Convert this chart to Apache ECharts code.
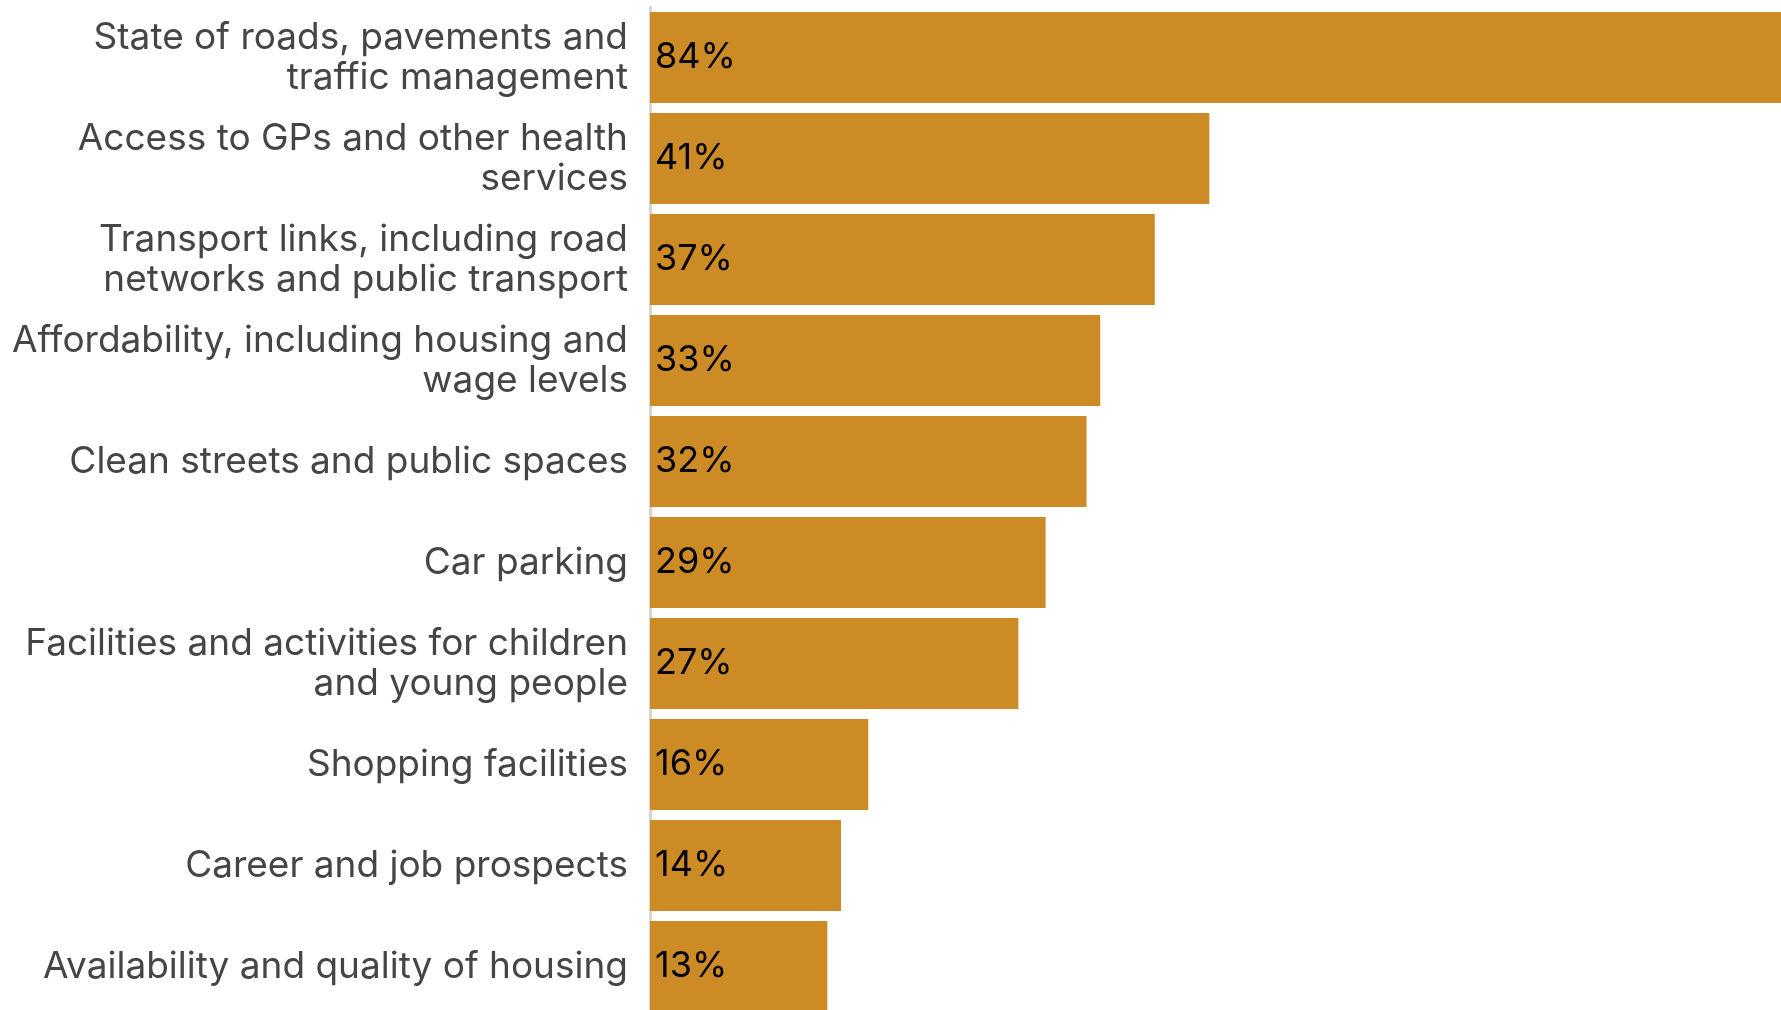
<!DOCTYPE html>
<html>
<head>
<meta charset="utf-8">
<style>
  html, body { margin: 0; padding: 0; background: #ffffff; }
  #chart { width: 1781px; height: 1010px; }
</style>
<script src="https://cdn.jsdelivr.net/npm/echarts@6/dist/echarts.min.js"></script>
</head>
<body>
<div id="chart"></div>
<script>
// Issues people want improved in their local area (share of respondents)
const categories = [
  'State of roads, pavements and\ntraffic management',
  'Access to GPs and other health\nservices',
  'Transport links, including road\nnetworks and public transport',
  'Affordability, including housing and\nwage levels',
  'Clean streets and public spaces',
  'Car parking',
  'Facilities and activities for children\nand young people',
  'Shopping facilities',
  'Career and job prospects',
  'Availability and quality of housing'
];
const shares = [84, 41, 37, 33, 32, 29, 27, 16, 14, 13];

const chart = echarts.init(document.getElementById('chart'), null, { renderer: 'canvas' });

chart.setOption({
  animation: false,
  // the plot runs a little past the right and bottom edges, so the longest
  // bar and the last row are cut off by the canvas
  grid: {
    left: 650, top: 7, width: 1146, height: 1010,
    outerBoundsMode: 'none',
    containLabel: false
  },
  xAxis: {
    type: 'value',
    min: 0,
    max: 84,
    show: false
  },
  yAxis: {
    type: 'category',
    inverse: true,
    data: categories,
    axisLine: { show: true, lineStyle: { color: '#d6d6d6', width: 3 } },
    axisTick: { show: false },
    axisLabel: {
      color: '#454545',
      fontFamily: 'Inter',
      fontSize: 37,
      lineHeight: 40,
      align: 'right',
      margin: 22,
      padding: [0, 0, 5, 0]
    }
  },
  series: [{
    type: 'bar',
    data: shares,
    barCategoryGap: '10%',
    itemStyle: { color: '#CD8B26' },
    label: {
      show: true,
      position: 'insideLeft',
      distance: 5,
      formatter: p => p.value + '%',
      color: '#000000',
      fontFamily: 'Inter',
      fontSize: 36
    }
  }]
});
</script>
</body>
</html>
